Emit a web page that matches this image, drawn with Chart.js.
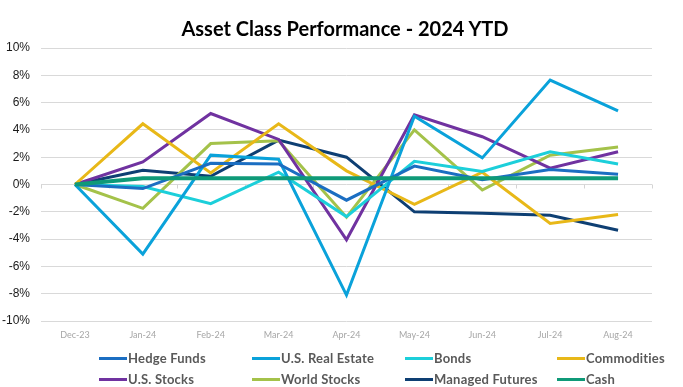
<!DOCTYPE html>
<html>
<head>
<meta charset="utf-8">
<script src="https://cdn.jsdelivr.net/npm/chart.js@4.4.1/dist/chart.umd.min.js"></script>
<style>
  html, body { margin: 0; padding: 0; background: #ffffff; }
  #wrap { position: relative; width: 683px; height: 387px; overflow: hidden; }
  #box { position: absolute; left: 0; top: 0; width: 683px; height: 345px; }
  #title { position: absolute; left: 45px; width: 600px; top: 16px; height: 24px; line-height: 24px; text-align: center;
           font-family: Lato, sans-serif; font-weight: bold; font-size: 20px; color: #000; white-space: nowrap; }
  #legend { position: absolute; left: 0; top: 0; width: 683px; height: 387px; pointer-events: none; }
  .li { position: absolute; display: flex; align-items: center; height: 16px; margin-top: -8px;
        font-family: Lato, "Open Sans", sans-serif; font-weight: bold; font-size: 13px; letter-spacing: 0.2px; color: #595959; white-space: nowrap; }
  .li .mk { width: 28px; height: 3px; margin-right: 1px; }
</style>
</head>
<body>
<div id="wrap">
  <div id="box"><canvas id="c"></canvas></div>
  <div id="title"></div>
  <div id="legend"></div>
</div>
<script>
const categories = ["Dec-23","Jan-24","Feb-24","Mar-24","Apr-24","May-24","Jun-24","Jul-24","Aug-24"];
const seriesNames = ["Hedge Funds","U.S. Real Estate","Bonds","Commodities","U.S. Stocks","World Stocks","Managed Futures","Cash"];
const hedgeFunds     = [0, -0.30,  1.55, 1.50, -1.15,  1.35,  0.35,  1.10,  0.75];
const usRealEstate   = [0, -5.10,  2.15, 1.85, -8.10,  5.00,  1.95,  7.65,  5.40];
const bonds          = [0, -0.15, -1.40, 0.90, -2.35,  1.70,  0.95,  2.40,  1.50];
const commodities    = [0,  4.45,  0.85, 4.45,  1.00, -1.45,  0.90, -2.85, -2.20];
const usStocks       = [0,  1.65,  5.20, 3.30, -4.05,  5.10,  3.50,  1.20,  2.40];
const worldStocks    = [0, -1.75,  3.00, 3.20, -2.40,  4.00, -0.40,  2.15,  2.75];
const managedFutures = [0,  1.05,  0.60, 3.25,  2.00, -2.00, -2.10, -2.25, -3.35];
const cash           = [0,  0.45,  0.45, 0.45,  0.45,  0.45,  0.45,  0.45,  0.45];
const yTicks = [-10,-8,-6,-4,-2,0,2,4,6,8,10];
const titleText = "Asset Class Performance - 2024 YTD";

const allSeries = [hedgeFunds, usRealEstate, bonds, commodities, usStocks, worldStocks, managedFutures, cash];
const colors = ["#1B6EC2","#0AA2DA","#1CCFDA","#E8B818","#7032A0","#A4C24A","#0E3F73","#0F9A78"];

document.getElementById('title').textContent = titleText;

const datasets = allSeries.map((d, i) => ({
  label: seriesNames[i],
  data: d,
  borderColor: colors[i],
  backgroundColor: colors[i],
  borderWidth: i === 7 ? 4 : 3,
  pointRadius: 0,
  tension: 0,
  fill: false,
  order: i === 7 ? 0 : 1
}));

const zeroTicks = {
  id: 'zeroTicks',
  beforeDatasetsDraw(chart) {
    const x = chart.scales.x, y = chart.scales.y;
    const ctx = chart.ctx;
    const y0 = y.getPixelForValue(0);
    const n = categories.length;
    const step = (x.right - x.left) / n;
    ctx.save();
    ctx.strokeStyle = '#d4d4d4';
    ctx.lineWidth = 1;
    ctx.beginPath();
    for (let i = 0; i <= n; i++) {
      const px = Math.round(x.left + i * step) + 0.5;
      ctx.moveTo(px, y0);
      ctx.lineTo(px, y0 + 4);
    }
    ctx.stroke();
    ctx.restore();
  }
};

const chart = new Chart(document.getElementById('c'), {
  type: 'line',
  data: { labels: categories, datasets: datasets },
  options: {
    responsive: true,
    maintainAspectRatio: false,
    animation: false,
    layout: { padding: { left: 0, right: 31, top: 48, bottom: 0 } },
    plugins: {
      legend: { display: false },
      tooltip: { enabled: false },
      title: { display: false }
    },
    scales: {
      x: {
        offset: true,
        grid: { display: false, drawTicks: false },
        border: { display: false },
        ticks: { color: '#a6a6a6', font: { family: 'Lato, sans-serif', size: 9 }, padding: 9, maxRotation: 0 },
        afterFit: s => { s.height = 24; }
      },
      y: {
        min: -10, max: 10,
        afterBuildTicks: s => { s.ticks = yTicks.map(v => ({ value: v })); },
        grid: { color: '#d9d9d9', lineWidth: 1, drawTicks: false },
        border: { display: false },
        ticks: { color: '#1a1a1a', font: { family: '"Liberation Sans", Arial, sans-serif', size: 12 }, padding: 11,
                 callback: v => v + '%' },
        afterFit: s => { s.width = 41; }
      }
    }
  },
  plugins: [zeroTicks]
});

// HTML legend built from the chart's datasets
const legendEl = document.getElementById('legend');
const colX = [99, 252, 405, 557];
const rowY = [358, 379];
chart.data.datasets.forEach((ds, i) => {
  const el = document.createElement('div');
  el.className = 'li';
  el.style.left = colX[i % 4] + 'px';
  el.style.top = rowY[Math.floor(i / 4)] + 'px';
  const mk = document.createElement('span');
  mk.className = 'mk';
  mk.style.background = ds.borderColor;
  const tx = document.createElement('span');
  tx.textContent = ds.label;
  el.appendChild(mk);
  el.appendChild(tx);
  legendEl.appendChild(el);
});
</script>
</body>
</html>
